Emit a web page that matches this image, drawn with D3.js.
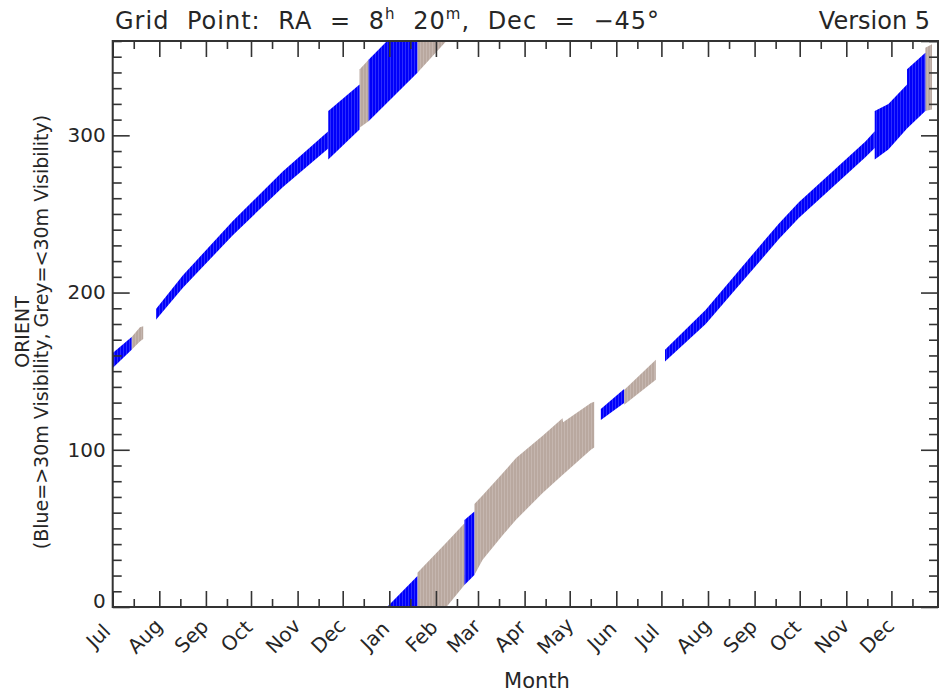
<!DOCTYPE html>
<html>
<head>
<meta charset="utf-8">
<script src="https://cdn.jsdelivr.net/npm/d3@7"></script>
<style>
  body { margin: 0; background: #fff; }
  text { font-family: 'DejaVu Sans', sans-serif; fill: #262626; }
</style>
</head>
<body>
<div id="chart"></div>
<script>

// Month tick labels, Jul of year one to Dec of year two
const monthLabels = [ 'Jul', 'Aug', 'Sep', 'Oct', 'Nov', 'Dec', 'Jan', 'Feb', 'Mar',
                      'Apr', 'May', 'Jun', 'Jul', 'Aug', 'Sep', 'Oct', 'Nov', 'Dec' ];
const yTickValues = [ 0, 100, 200, 300 ];

// Visibility runs: [ day counted from 1 Jul, orient low, orient high ]
// orients above 360 wrap round to the bottom of the plot
const blueRuns = [
  [ [ 0, 152, 161.5 ], [ 12.6, 163.6, 171.7 ] ],
  [ [ 28.8, 182.7, 189.5 ], [ 46.7, 203, 211 ], [ 79.9, 236.5, 245.5 ], [ 113.1, 267, 277 ], [ 143.4, 291.6, 302.6 ] ],
  [ [ 143.4, 284.6, 315.4 ], [ 164.2, 303.7, 332.4 ] ],
  [ [ 170.2, 309, 348 ], [ 202.7, 339.8, 379.7 ] ],
  [ [ 234, 374, 415.4 ], [ 240.6, 380.4, 420.7 ] ],
  [ [ 324.7, 119, 125.9 ], [ 340.2, 129.7, 138.6 ] ],
  [ [ 367.4, 156.2, 163.6 ], [ 394.5, 180, 189 ], [ 412.1, 199.5, 209 ], [ 443.2, 234, 244 ],
    [ 456.4, 247.5, 257.5 ], [ 500.7, 286, 296 ], [ 506.9, 292, 302.6 ] ],
  [ [ 506.9, 284.6, 315.4 ], [ 516, 291, 320 ], [ 528.4, 304.3, 332.4 ], [ 528.4, 304.3, 342 ], [ 540.6, 315.4, 352.5 ] ]
];

const greyRuns = [
  [ [ 12.6, 163.6, 171.7 ], [ 18.1, 168.8, 178 ], [ 20.3, 170.5, 178.5 ] ],
  [ [ 164.2, 304.8, 341.9 ], [ 170.2, 309, 348 ] ],
  [ [ 202.7, 339.8, 381.8 ], [ 222, 360, 401 ], [ 234, 374, 413.3 ] ],
  [ [ 240.6, 380.4, 425.5 ], [ 246.1, 390, 431 ], [ 259.4, 405.6, 445 ], [ 268.3, 415.5, 454.7 ], [ 286, 432.5, 468.9 ],
    [ 299.2, 443.9, 480.1 ], [ 299.6, 444.2, 477.5 ], [ 318.1, 460, 489.7 ], [ 320.3, 461.5, 490.5 ] ],
  [ [ 340.2, 128.6, 138 ], [ 361.3, 144.5, 157.3 ] ],
  [ [ 540.6, 315.4, 355.7 ], [ 545, 316.4, 358 ] ]
];

const figure_width = 940;
const figure_height = 692;
const plot = { left: 112.7, right: 938, top: 41, bottom: 607 };

const start = Date.UTC( 2001, 6, 1 );
const end = Date.UTC( 2003, 0, 1 );
const toDate = function( day ) { return new Date( start + day * 864e5 ); };

const svg = d3.select( '#chart' )
  .append( 'svg' )
    .attr( 'width', figure_width )
    .attr( 'height', figure_height );

const x = d3.scaleUtc()
  .domain( [ new Date( start ), new Date( end ) ] )
  .range( [ plot.left, plot.right ] );

const y = d3.scaleLinear()
  .domain( [ 0, 360 ] )
  .range( [ plot.bottom, plot.top ] );

// Stripy fill, like the day by day bars of the original
const defs = svg.append( 'defs' );
function stripes( id, base, light ) {
  const p = defs.append( 'pattern' )
    .attr( 'id', id )
    .attr( 'patternUnits', 'userSpaceOnUse' )
    .attr( 'width', 3 ).attr( 'height', 10 );
  p.append( 'rect' ).attr( 'width', 3 ).attr( 'height', 10 ).attr( 'fill', base );
  p.append( 'rect' ).attr( 'x', 0 ).attr( 'width', 0.7 ).attr( 'height', 10 ).attr( 'fill', light );
}
stripes( 'blueFill', '#0000fa', '#3f3fff' );
stripes( 'greyFill', '#b9a89f', '#cbbdb6' );

defs.append( 'clipPath' ).attr( 'id', 'plotClip' )
  .append( 'rect' )
    .attr( 'x', plot.left ).attr( 'y', plot.top )
    .attr( 'width', plot.right - plot.left ).attr( 'height', plot.bottom - plot.top );

const bands = svg.append( 'g' ).attr( 'clip-path', 'url(#plotClip)' );

// Draw each run once as read and once wrapped by 360 degrees
[ 0, -360 ].forEach( function( shift ) {
  const area = d3.area()
    .x( function( d ) { return x( toDate( d[0] ) ); } )
    .y0( function( d ) { return y( d[1] + shift ); } )
    .y1( function( d ) { return y( d[2] + shift ); } );

  bands.selectAll( null )
    .data( greyRuns )
    .enter().append( 'path' )
      .attr( 'd', area )
      .attr( 'fill', 'url(#greyFill)' );

  bands.selectAll( null )
    .data( blueRuns )
    .enter().append( 'path' )
      .attr( 'd', area )
      .attr( 'fill', 'url(#blueFill)' );
});

// Axes, ticks point inwards on all four sides
const months = d3.utcMonth.range( new Date( start ), new Date( end ) );
const midMonths = months.map( function( m ) { return d3.utcDay.offset( m, 14 ); } );
const minorY = d3.range( 0, 361, 10 ).filter( function( v ) { return v % 100 !== 0; } );

function styleAxis( g ) {
  g.select( '.domain' ).remove();
  g.selectAll( 'line' ).attr( 'stroke', '#333' ).attr( 'stroke-width', 1.6 );
}

svg.append( 'g' )
  .attr( 'transform', 'translate(0,' + plot.bottom + ')' )
  .call( d3.axisBottom( x ).tickValues( months ).tickSize( -16 ).tickFormat( '' ) )
  .call( styleAxis );
svg.append( 'g' )
  .attr( 'transform', 'translate(0,' + plot.bottom + ')' )
  .call( d3.axisBottom( x ).tickValues( midMonths ).tickSize( -8 ).tickFormat( '' ) )
  .call( styleAxis );
svg.append( 'g' )
  .attr( 'transform', 'translate(0,' + plot.top + ')' )
  .call( d3.axisTop( x ).tickValues( months ).tickSize( -16 ).tickFormat( '' ) )
  .call( styleAxis );
svg.append( 'g' )
  .attr( 'transform', 'translate(0,' + plot.top + ')' )
  .call( d3.axisTop( x ).tickValues( midMonths ).tickSize( -8 ).tickFormat( '' ) )
  .call( styleAxis );

const yAxis = svg.append( 'g' )
  .attr( 'transform', 'translate(' + plot.left + ',0)' )
  .call( d3.axisLeft( y ).tickValues( yTickValues ).tickSize( -17 ).tickPadding( 7 ) )
  .call( styleAxis );
yAxis.selectAll( 'text' )
  .style( 'font-size', '20px' )
  .style( 'font-family', "'DejaVu Sans', sans-serif" )
  .attr( 'fill', '#262626' )
  .attr( 'dy', function( d ) { return d === 0 ? '0em' : '0.32em'; } );

svg.append( 'g' )
  .attr( 'transform', 'translate(' + plot.left + ',0)' )
  .call( d3.axisLeft( y ).tickValues( minorY ).tickSize( -9 ).tickFormat( '' ) )
  .call( styleAxis );
svg.append( 'g' )
  .attr( 'transform', 'translate(' + plot.right + ',0)' )
  .call( d3.axisRight( y ).tickValues( yTickValues.concat( [ 360 ] ) ).tickSize( -17 ).tickFormat( '' ) )
  .call( styleAxis );
svg.append( 'g' )
  .attr( 'transform', 'translate(' + plot.right + ',0)' )
  .call( d3.axisRight( y ).tickValues( minorY ).tickSize( -9 ).tickFormat( '' ) )
  .call( styleAxis );

// Plot frame
svg.append( 'rect' )
  .attr( 'x', plot.left ).attr( 'y', plot.top )
  .attr( 'width', plot.right - plot.left ).attr( 'height', plot.bottom - plot.top )
  .attr( 'fill', 'none' ).attr( 'stroke', '#333' ).attr( 'stroke-width', 2 );

// Rotated month labels
svg.append( 'g' )
  .selectAll( 'text' )
  .data( months )
  .enter().append( 'text' )
    .attr( 'transform', function( d ) { return 'translate(' + ( x( d ) - 9.5 ) + ',641) rotate(-45)'; } )
    .attr( 'text-anchor', 'middle' )
    .style( 'font-size', '20px' )
    .text( function( d, i ) { return monthLabels[i]; } );

// Titles
const title = svg.append( 'text' )
  .attr( 'x', 115 ).attr( 'y', 29 )
  .style( 'font-size', '24px' )
  .style( 'word-spacing', '9px' )
  .style( 'letter-spacing', '1px' );
title.append( 'tspan' ).text( 'Grid Point: RA = 8' );
title.append( 'tspan' ).attr( 'dy', -10 ).style( 'font-size', '15px' ).text( 'h' );
title.append( 'tspan' ).attr( 'dy', 10 ).text( ' 20' );
title.append( 'tspan' ).attr( 'dy', -10 ).style( 'font-size', '15px' ).text( 'm' );
title.append( 'tspan' ).attr( 'dy', 10 ).text( ', Dec = \u221245\u00b0' );

svg.append( 'text' )
  .attr( 'x', 930 ).attr( 'y', 29 )
  .attr( 'text-anchor', 'end' )
  .style( 'font-size', '24px' )
  .text( 'Version 5' );

svg.append( 'text' )
  .attr( 'x', 537 ).attr( 'y', 688 )
  .attr( 'text-anchor', 'middle' )
  .style( 'font-size', '21px' )
  .text( 'Month' );

svg.append( 'text' )
  .attr( 'transform', 'translate(29,332) rotate(-90)' )
  .attr( 'text-anchor', 'middle' )
  .style( 'font-size', '19px' )
  .text( 'ORIENT' );
svg.append( 'text' )
  .attr( 'transform', 'translate(48,332) rotate(-90)' )
  .attr( 'text-anchor', 'middle' )
  .style( 'font-size', '19px' )
  .text( '(Blue=>30m Visibility, Grey=<30m Visibility)' );

</script>
</body>
</html>
